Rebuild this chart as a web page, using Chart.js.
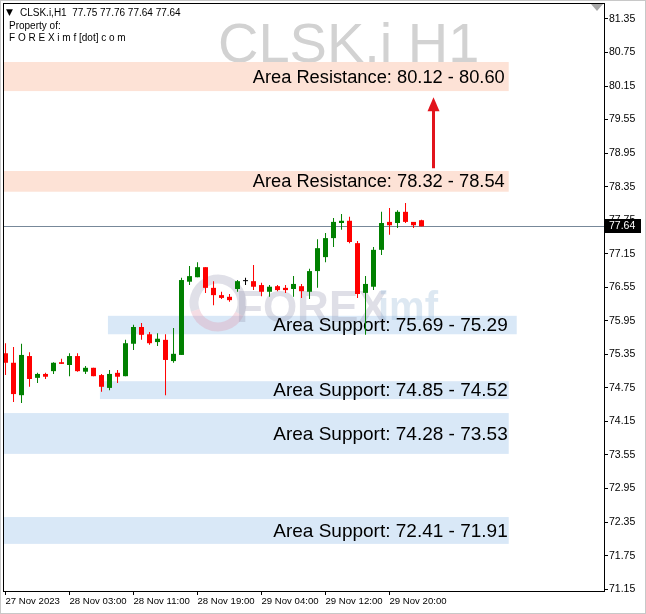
<!DOCTYPE html>
<html><head><meta charset="utf-8">
<script src="https://cdn.jsdelivr.net/npm/chart.js@4.4.0/dist/chart.umd.min.js"></script>
<style>html,body{margin:0;padding:0;background:#fff;}#wrap{width:646px;height:614px;position:relative;}canvas{display:block;}</style>
</head><body><div id="wrap"><canvas id="c" width="646" height="614"></canvas></div>
<script>
// ---- data (H1 candles, CLSK.i) ----
const opens  = [75.37,75.20,74.62,75.32,74.93,75.00,75.05,75.21,75.16,75.32,75.04,75.11,74.98,74.75,75.02,74.96,75.54,75.84,75.71,75.57,75.61,75.23,75.34,76.65,76.73,76.91,76.54,76.41,76.38,76.52,76.66,76.66,76.59,76.47,76.57,76.54,76.52,76.57,76.47,76.84,77.09,77.43,77.70,77.74,77.34,76.45,76.56,77.22,77.72,77.70,77.90,77.72,77.75];
const highs  = [75.55,75.48,75.54,75.39,75.02,75.02,75.21,75.27,75.37,75.37,75.14,75.11,75.00,75.07,75.07,75.61,75.88,75.91,75.75,75.73,75.71,75.82,76.72,76.93,77.00,76.91,76.66,76.47,76.43,76.68,76.72,76.95,76.63,76.59,76.59,76.59,76.75,76.61,76.88,77.41,77.52,77.79,77.86,77.81,77.38,76.75,77.27,77.90,77.97,77.93,78.06,77.72,77.76];
const lows   = [74.98,74.50,74.48,74.77,74.84,74.91,75.00,75.18,74.96,75.04,75.00,74.96,74.68,74.71,74.84,74.96,75.43,75.61,75.52,75.50,74.62,75.20,75.34,76.59,76.73,76.45,76.23,76.34,76.29,76.47,76.59,76.50,76.39,76.38,76.48,76.45,76.38,76.36,76.34,76.54,77.00,77.27,77.58,77.34,76.36,75.70,76.50,77.13,77.49,77.61,77.70,77.61,77.64];
const closes = [75.20,74.64,75.34,74.91,75.00,74.95,75.20,75.18,75.32,75.05,75.11,74.96,74.77,75.00,74.95,75.55,75.84,75.70,75.55,75.63,75.25,75.36,76.68,76.75,76.91,76.54,76.41,76.36,76.32,76.66,76.66,76.56,76.47,76.56,76.50,76.50,76.61,76.48,76.84,77.25,77.43,77.72,77.74,77.36,76.43,76.61,77.22,77.70,77.66,77.90,77.72,77.66,77.64];

const yTickLabels = ['81.35','80.75','80.15','79.55','78.95','78.35','77.75','77.15','76.55','75.95','75.35','74.75','74.15','73.55','72.95','72.35','71.75','71.15'];
const xTickLabels = ['27 Nov 2023','28 Nov 03:00','28 Nov 11:00','28 Nov 19:00','29 Nov 04:00','29 Nov 12:00','29 Nov 20:00'];
const xTickBars   = [0,8,16,24,32,40,48];

const zoneLabels = ['Area Resistance: 80.12 - 80.60','Area Resistance: 78.32 - 78.54','Area Support: 75.69 - 75.29','Area Support: 74.85 - 74.52','Area Support: 74.28 - 73.53','Area Support: 72.41 - 71.91'];
const zoneKinds  = ['res','res','sup','sup','sup','sup'];
const zoneHigh   = [80.58,78.63,76.04,74.87,74.30,72.44];
const zoneLow    = [80.06,78.26,75.71,74.55,73.57,71.96];
const zoneFrom   = [-1,-1,12.8,11.8,-1,-1];
const zoneTo     = [62.9,62.9,63.9,62.9,62.9,62.9];
const labelAnchorBar = 62.9;

const lastPrice = 77.64;
const headerLine = 'CLSK.i,H1  77.75 77.76 77.64 77.64';
const titleText = 'CLSK.i H1';
const arrowBar = 53.5, arrowFrom = 78.68, arrowTo = 79.95;

// ---- build datasets ----
const colors = opens.map((o,i)=> closes[i]>o ? '#008000' : (closes[i]<o ? '#ff0000' : '#000000'));
const wickData = opens.map((o,i)=>({x:i, y:[lows[i], highs[i]]}));
const bodyData = opens.map((o,i)=>({x:i, y:[Math.min(o,closes[i]), Math.max(o,closes[i])]}));

const FONT = '"Liberation Sans", Arial, sans-serif';

const overlay = {
  id:'overlay',
  beforeDatasetsDraw(chart){
    const {ctx, chartArea:a, scales:{x,y}} = chart;
    ctx.save();
    ctx.beginPath(); ctx.rect(a.left,a.top,a.right-a.left,a.bottom-a.top); ctx.clip();
    // big title
    ctx.fillStyle = '#d2d2d2';
    ctx.font = '56px ' + FONT;
    ctx.textAlign = 'left'; ctx.textBaseline = 'alphabetic';
    ctx.fillText(titleText, 218, 62);
    // zones
    zoneLabels.forEach((lab,i)=>{
      const x1 = Math.max(a.left, x.getPixelForValue(zoneFrom[i]));
      const x2 = x.getPixelForValue(zoneTo[i]);
      const y1 = y.getPixelForValue(zoneHigh[i]);
      const y2 = y.getPixelForValue(zoneLow[i]);
      ctx.fillStyle = zoneKinds[i]==='res' ? '#fde2d6' : '#d9e8f7';
      ctx.fillRect(x1, y1, x2-x1, y2-y1);
    });
    // watermark
    ctx.lineWidth = 9;
    ctx.strokeStyle = 'rgba(160,160,185,0.32)';
    ctx.beginPath(); ctx.arc(218, 303, 24, Math.PI*0.9, Math.PI*2.15); ctx.stroke();
    ctx.strokeStyle = 'rgba(225,150,170,0.32)';
    ctx.beginPath(); ctx.arc(218, 303, 24, Math.PI*0.15, Math.PI*0.9); ctx.stroke();
    ctx.font = 'bold 44px ' + FONT;
    ctx.fillStyle = 'rgba(150,150,175,0.30)';
    ctx.fillText('FOREX', 236, 322);
    ctx.fillStyle = 'rgba(150,185,215,0.32)';
    ctx.font = 'bold 40px ' + FONT;
    ctx.fillText('imf', 378, 320);
    // zone labels
    ctx.fillStyle = '#000';
    ctx.textAlign = 'right'; ctx.textBaseline = 'middle';
    const lx = x.getPixelForValue(labelAnchorBar);
    zoneLabels.forEach((lab,i)=>{
      const res = zoneKinds[i]==='res';
      ctx.font = (res ? '18.3px ' : '19px ') + FONT;
      const ym = (y.getPixelForValue(zoneHigh[i]) + y.getPixelForValue(zoneLow[i]))/2;
      ctx.fillText(lab, lx - (res ? 4 : 1), ym + 1);
    });
    // bid line
    const py = Math.round(y.getPixelForValue(lastPrice)) + 0.5;
    ctx.strokeStyle = '#778899'; ctx.lineWidth = 1;
    ctx.beginPath(); ctx.moveTo(a.left, py); ctx.lineTo(a.right, py); ctx.stroke();
    ctx.restore();
  },
  afterDatasetsDraw(chart){
    const {ctx, scales:{x,y}} = chart;
    const cx = x.getPixelForValue(arrowBar);
    const y1 = y.getPixelForValue(arrowFrom), y2 = y.getPixelForValue(arrowTo);
    ctx.save();
    ctx.strokeStyle = '#e2141c'; ctx.fillStyle = '#e2141c'; ctx.lineWidth = 3;
    ctx.beginPath(); ctx.moveTo(cx, y1); ctx.lineTo(cx, y2 + 10); ctx.stroke();
    ctx.beginPath(); ctx.moveTo(cx - 6, y2 + 14); ctx.lineTo(cx + 6, y2 + 14); ctx.lineTo(cx, y2); ctx.closePath(); ctx.fill();
    ctx.restore();
  },
  afterDraw(chart){
    const {ctx, chartArea:a, scales:{y}} = chart;
    ctx.save();
    // frame
    ctx.strokeStyle = '#000'; ctx.lineWidth = 1;
    ctx.strokeRect(a.left - 0.5, a.top - 0.5, a.right - a.left + 1, a.bottom - a.top + 1);
    // outer border
    ctx.strokeStyle = '#c8c8c8';
    ctx.strokeRect(0.5, 0.5, 645, 613);
    // shift triangle
    ctx.fillStyle = '#a8a8a8';
    ctx.beginPath(); ctx.moveTo(591, a.top); ctx.lineTo(603, a.top); ctx.lineTo(597, a.top + 7); ctx.closePath(); ctx.fill();
    // price box
    const py = Math.round(y.getPixelForValue(lastPrice));
    ctx.fillStyle = '#000';
    ctx.fillRect(a.right + 1, py - 7, 36, 14);
    ctx.fillStyle = '#fff';
    ctx.font = '10.5px ' + FONT; ctx.textAlign = 'left'; ctx.textBaseline = 'middle';
    ctx.fillText(lastPrice.toFixed(2), a.right + 5, py + 0.5);
    // header
    ctx.fillStyle = '#000';
    ctx.font = '9px "DejaVu Sans", sans-serif';
    ctx.fillText('\u25BC', 6, 13);
    ctx.font = '10px ' + FONT;
    ctx.fillText(headerLine, 20, 13);
    ctx.fillText('Property of:', 9, 26);
    ctx.fillText('F O R E X i m f [dot] c o m', 9, 38);
    ctx.restore();
  }
};

new Chart(document.getElementById('c').getContext('2d'), {
  type:'bar',
  data:{datasets:[
    {data:wickData, backgroundColor:colors, barThickness:1, grouped:false, inflateAmount:0, borderWidth:0, order:2},
    {data:bodyData, backgroundColor:colors, barThickness:5, grouped:false, inflateAmount:0, borderWidth:0, minBarLength:1, order:1}
  ]},
  options:{
    responsive:false, animation:false, devicePixelRatio:1,
    layout:{padding:{left:4, top:4, right:0, bottom:0}},
    plugins:{legend:{display:false}, tooltip:{enabled:false}},
    scales:{
      x:{type:'linear', min:-0.19, max:74.81, offset:false,
         grid:{display:true, drawOnChartArea:false, drawTicks:true, tickLength:4, color:'#000', offset:false},
         border:{display:true, color:'#000'},
         ticks:{align:'start', padding:1, maxRotation:0, autoSkip:false, color:'#000', font:{family:'Liberation Sans', size:9.6},
                callback:(v,i)=>xTickLabels[i]},
         afterBuildTicks:s=>{ s.ticks = xTickBars.map(v=>({value:v})); },
         afterFit:s=>{ s.height = 23; s.paddingLeft = 0; s.paddingRight = 0; }},
      y:{type:'linear', position:'right', min:71.117, max:81.618,
         grid:{display:true, drawOnChartArea:false, drawTicks:true, tickLength:4, color:'#000'},
         border:{display:true, color:'#000'},
         ticks:{padding:1, autoSkip:false, color:'#000', font:{family:'Liberation Sans', size:10.5},
                callback:(v,i)=>yTickLabels[i]},
         afterBuildTicks:s=>{ s.ticks = yTickLabels.map(t=>({value:parseFloat(t)})); },
         afterFit:s=>{ s.width = 42; s.paddingTop = 0; s.paddingBottom = 0; }}
    }
  },
  plugins:[overlay]
});
</script></body></html>
